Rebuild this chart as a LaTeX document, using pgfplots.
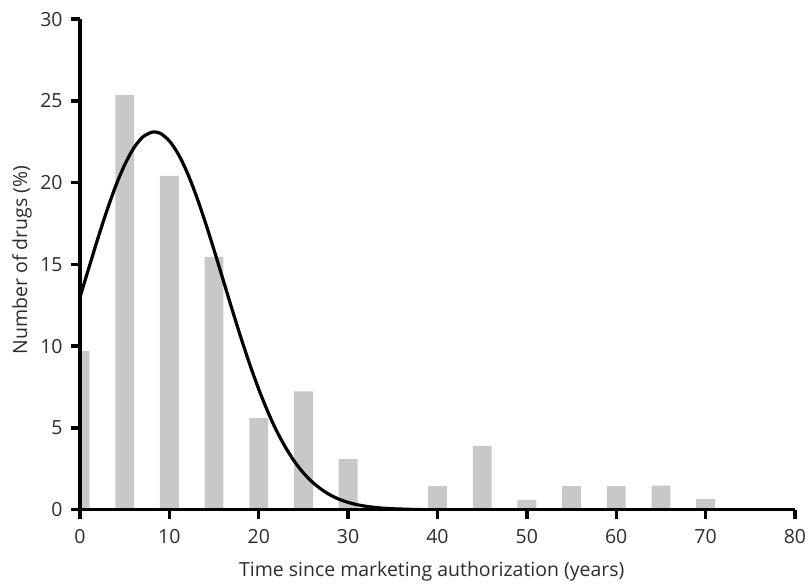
\documentclass[border=0pt]{standalone}
\usepackage{fontspec}
\setmainfont{Open Sans}
\usepackage{pgfplots}
\pgfplotsset{compat=1.18}
\definecolor{bargray}{RGB}{200,200,200}
\definecolor{txt}{RGB}{45,45,45}
\pgfplotstableread{
x y
0 9.71
5 25.37
10 20.42
15 15.46
20 5.60
25 7.23
30 3.10
40 1.45
45 3.91
50 0.61
55 1.45
60 1.45
65 1.47
70 0.65
}\bars
\pgfplotstableread{
x y
0 13.00
1 14.80
2 16.59
3 18.27
4 19.80
5 21.09
6 22.10
7 22.78
8 23.08
8.3 23.10
9 23.01
10 22.55
11 21.74
12 20.61
13 19.21
14 17.61
15 15.88
16 14.08
17 12.28
18 10.53
19 8.88
20 7.37
21 6.01
22 4.82
23 3.81
24 2.95
25 2.25
26 1.69
27 1.25
28 0.90
29 0.64
30 0.45
31 0.31
32 0.21
33 0.14
34 0.09
35 0.06
36 0.04
38 0.01
40 0.00
}\curve
\begin{document}
\begin{tikzpicture}
\begin{axis}[
  scale only axis, width=536.25pt, height=368pt,
  xmin=0, xmax=80, ymin=0, ymax=30,
  axis lines=left,
  axis line style={line width=2.6pt, black, -},
  axis on top,
  xtick={0,10,...,80}, ytick={0,5,...,30},
  tick align=outside,
  major tick length=7pt,
  every tick/.style={line width=2.6pt, black},
  /pgf/number format/assume math mode=true,
  tick label style={font=\fontsize{14.6}{17}\selectfont, text=txt},
  xticklabel style={yshift=-4.5pt},
  yticklabel style={xshift=-2.5pt},
  label style={font=\fontsize{14.6}{17}\selectfont, text=txt},
  xlabel={Time since marketing authorization (years)},
  ylabel={Number of drugs (\%)},
  xlabel style={at={(axis description cs:0.492,-0.125)}, anchor=center},
  ylabel style={at={(axis description cs:-0.081,0.509)}, anchor=center, rotate=0},
  clip=true,
]
\addplot[ybar, bar width=2.1, fill=bargray, draw=none] table[x=x,y=y] {\bars};
\addplot[line width=2.4pt, black, smooth] table[x=x,y=y] {\curve};
\end{axis}
\pgfresetboundingbox
\useasboundingbox (-60pt,-55.1pt) rectangle (546pt,382.3pt);
\end{tikzpicture}
\end{document}
